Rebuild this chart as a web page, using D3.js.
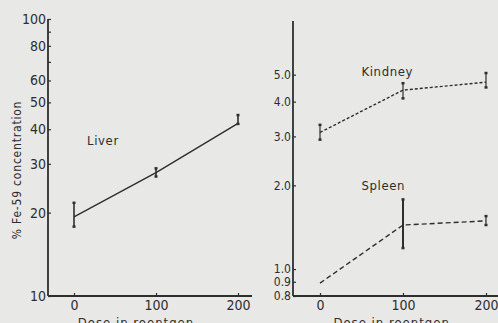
<!DOCTYPE html>
<html>
<head>
<meta charset="utf-8">
<script src="https://cdn.jsdelivr.net/npm/d3@7"></script>
<style>
	body { margin: 0; background: #e8e8e6; }
	svg text { font-family: "DejaVu Sans Condensed", "Liberation Sans Narrow", sans-serif; fill: #2e2e2e; }
</style>
</head>
<body>
<div id="chart"></div>
<script>
const width = 498,
			height = 323;

// doses (roentgen)
const doses = [0, 100, 200];

// liver, % Fe-59
const liverMean = [19.3, 27.9, 42.0];
const liverLow = [17.8, 27.0, 41.8];
const liverHigh = [21.7, 28.9, 45.0];

// kidney
const kidneyMean = [3.1, 4.4, 4.7];
const kidneyLow = [2.92, 4.11, 4.5];
const kidneyHigh = [3.3, 4.66, 5.07];

// spleen (no bar at 0)
const spleenMean = [0.89, 1.44, 1.49];
const spleenLow = [null, 1.19, 1.44];
const spleenHigh = [null, 1.78, 1.55];

const leftTicks = [10, 20, 30, 40, 50, 60, 80, 100];
const leftMinor = [70, 90];
const rightTicks = [0.8, 0.9, 1.0, 2.0, 3.0, 4.0, 5.0];
const xTicks = [0, 100, 200];

const svg = d3.select("#chart")
	.append("svg")
		.attr("width", width)
		.attr("height", height);

const ink = "#2e2e2e";

// ---- left panel ----
const xL = d3.scaleLinear().domain([0, 200]).range([74, 238]);
const yL = d3.scaleLog().domain([10, 100]).range([296, 19]);

// ---- right panel ----
const xR = d3.scaleLinear().domain([0, 200]).range([320, 486]);
const yR = d3.scaleLog().domain([0.8, 7.8]).range([296, 21]);

function drawFrame(x, y, x0, x1, ticks, fmt, minor, fs, title, titleX) {
	const g = svg.append("g");

	g.append("g")
			.attr("transform", `translate(${x0},0)`)
			.call(d3.axisLeft(y)
				.tickValues(ticks)
				.tickFormat(fmt)
				.tickSizeInner(-3)
				.tickSizeOuter(0)
				.tickPadding(2))
			.call(a => a.select(".domain").remove())
			.call(a => a.selectAll("line").attr("stroke", ink).attr("stroke-width", 1.2))
			.call(a => a.selectAll("text").attr("font-size", fs).attr("fill", ink));

	if (minor) {
		g.append("g")
				.attr("transform", `translate(${x0},0)`)
				.call(d3.axisLeft(y).tickValues(minor).tickFormat("").tickSizeInner(-3).tickSizeOuter(0))
				.call(a => a.select(".domain").remove())
				.call(a => a.selectAll("line").attr("stroke", ink).attr("stroke-width", 1.2));
	}

	g.append("g")
			.attr("transform", `translate(0,${y.range()[0]})`)
			.call(d3.axisBottom(x)
				.tickValues(xTicks)
				.tickSizeInner(-3)
				.tickSizeOuter(0)
				.tickPadding(4))
			.call(a => a.select(".domain").remove())
			.call(a => a.selectAll("line").attr("stroke", ink).attr("stroke-width", 1.2))
			.call(a => a.selectAll("text").attr("font-size", 14).attr("fill", ink));

	// axis lines
	g.append("line")
			.attr("x1", x0).attr("x2", x0)
			.attr("y1", y.range()[0]).attr("y2", y.range()[1])
			.attr("stroke", ink).attr("stroke-width", 1.8);
	g.append("line")
			.attr("x1", x0).attr("x2", x1)
			.attr("y1", y.range()[0]).attr("y2", y.range()[0])
			.attr("stroke", ink).attr("stroke-width", 1.8);

	g.append("text")
			.attr("x", titleX)
			.attr("y", 327)
			.attr("text-anchor", "middle")
			.attr("font-size", 13)
			.attr("letter-spacing", 1)
			.text(title);
}

drawFrame(xL, yL, 48, 252, leftTicks, d3.format("d"), leftMinor, 14, "Dose in roentgen", 136);
drawFrame(xR, yR, 293, 498, rightTicks, d3.format(".1f"), null, 12, "Dose in roentgen.", 394);

// y title
svg.append("text")
		.attr("transform", "translate(21,170) rotate(-90)")
		.attr("text-anchor", "middle")
		.attr("font-size", 12)
		.attr("letter-spacing", 0.8)
		.text("% Fe-59  concentration");

function series(x, y, mean, lo, hi, dash, barW) {
	const rows = doses.map((d, i) => ({ d, m: mean[i], lo: lo[i], hi: hi[i] }));
	svg.append("path")
			.datum(rows)
			.attr("fill", "none")
			.attr("stroke", ink)
			.attr("stroke-width", 1.4)
			.attr("stroke-dasharray", dash)
			.attr("d", d3.line().x(r => x(r.d)).y(r => y(r.m)));

	const bars = svg.append("g")
		.selectAll("g")
		.data(rows.filter(r => r.lo != null))
		.enter()
		.append("g")
			.attr("stroke", ink);

	bars.append("line")
			.attr("x1", r => x(r.d)).attr("x2", r => x(r.d))
			.attr("y1", r => y(r.lo)).attr("y2", r => y(r.hi))
			.attr("stroke-width", r => barW(r));
	bars.selectAll(".cap")
		.data(r => [[r.d, r.lo], [r.d, r.hi]])
		.enter()
		.append("line")
			.attr("x1", c => x(c[0]) - 1.5).attr("x2", c => x(c[0]) + 1.5)
			.attr("y1", c => y(c[1])).attr("y2", c => y(c[1]))
			.attr("stroke-width", 2.5);
}

series(xL, yL, liverMean, liverLow, liverHigh, null, () => 1.6);
series(xR, yR, kidneyMean, kidneyLow, kidneyHigh, "3,2", () => 1.2);
series(xR, yR, spleenMean, spleenLow, spleenHigh, "5,3", r => r.d === 100 ? 2 : 1.2);

// panel labels
const labels = [
	{ t: "Liver", x: xL(16), y: yL(35) },
	{ t: "Kindney", x: xR(50), y: yR(4.95) },
	{ t: "Spleen", x: xR(50), y: yR(1.93) }
];
svg.append("g")
	.selectAll("text")
	.data(labels)
	.enter()
	.append("text")
		.attr("x", d => d.x)
		.attr("y", d => d.y)
		.attr("font-size", 13)
		.attr("letter-spacing", 0.6)
		.text(d => d.t);
</script>
</body>
</html>
